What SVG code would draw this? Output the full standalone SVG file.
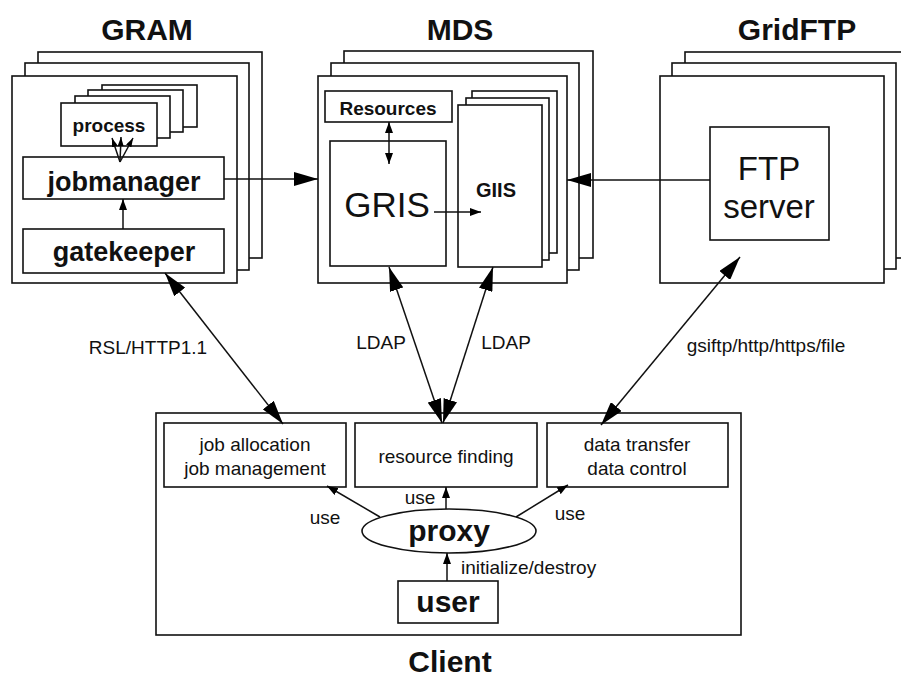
<svg xmlns="http://www.w3.org/2000/svg" width="901" height="679" viewBox="0 0 901 679">
<style>
.box{fill:#fff;stroke:#111;stroke-width:1.6}
.ln{fill:none;stroke:#111;stroke-width:1.5}
text{font-family:"Liberation Sans",Arial,Helvetica,sans-serif;fill:#111;text-anchor:middle}
.b{font-weight:bold}
.lbl{font-size:19px}
</style>
<defs>
<marker id="big" viewBox="0 0 24 14" refX="24" refY="7" markerWidth="24" markerHeight="14" markerUnits="userSpaceOnUse" orient="auto-start-reverse">
<path d="M0,0 L24,7 L0,14 z" fill="#000"/>
</marker>
<marker id="sm" viewBox="0 0 11 8" refX="11" refY="4" markerWidth="11" markerHeight="8" markerUnits="userSpaceOnUse" orient="auto-start-reverse">
<path d="M0,0 L11,4 L0,8 z" fill="#000"/>
</marker>
<marker id="xs" viewBox="0 0 9 6" refX="9" refY="3" markerWidth="9" markerHeight="6" markerUnits="userSpaceOnUse" orient="auto">
<path d="M0,0 L9,3 L0,6 z" fill="#000"/>
</marker>
</defs>
<rect width="901" height="679" fill="#fff"/>

<g id="gram">
<text class="b" x="147" y="40" font-size="30">GRAM</text>
<rect class="box" x="38" y="52" width="224" height="206"/>
<rect class="box" x="25" y="63" width="224" height="207"/>
<rect class="box" x="12" y="76" width="225" height="207"/>
</g>
<g id="process">
<rect class="box" x="102" y="85" width="95" height="42"/>
<rect class="box" x="88" y="90" width="95" height="42"/>
<rect class="box" x="75" y="96" width="95" height="42"/>
<rect class="box" x="61" y="103" width="96" height="43"/>
<text class="b" x="109" y="132" font-size="19">process</text>
</g>
<g id="jobmanager">
<rect class="box" x="23" y="157" width="201" height="42"/>
<text class="b" x="124" y="191" font-size="27">jobmanager</text>
</g>
<g id="gatekeeper">
<rect class="box" x="23" y="229" width="201" height="44"/>
<text class="b" x="124" y="261" font-size="27">gatekeeper</text>
</g>

<g id="mds">
<text class="b" x="460" y="40" font-size="30">MDS</text>
<rect class="box" x="344" y="51" width="249" height="207"/>
<rect class="box" x="331" y="63" width="248" height="207"/>
<rect class="box" x="318" y="76" width="249" height="207"/>
</g>
<g id="resources">
<rect class="box" x="325" y="91" width="127" height="31"/>
<text class="b" x="388" y="115" font-size="19">Resources</text>
</g>
<g id="gris">
<rect class="box" x="330" y="141" width="116" height="125"/>
<text x="387" y="217" font-size="35">GRIS</text>
</g>
<g id="giis">
<rect class="box" x="472" y="91" width="85" height="162"/>
<rect class="box" x="466" y="98" width="83" height="162"/>
<rect class="box" x="458" y="105" width="84" height="162"/>
<text class="b" x="496" y="197" font-size="20">GIIS</text>
</g>

<g id="gridftp">
<text class="b" x="797" y="40" font-size="30">GridFTP</text>
<rect class="box" x="685" y="52" width="230" height="206"/>
<rect class="box" x="672" y="63" width="224" height="206"/>
<rect class="box" x="660" y="76" width="224" height="207"/>
</g>
<g id="ftpserver">
<rect class="box" x="710" y="127" width="119" height="113"/>
<text x="769" y="180" font-size="33">FTP</text>
<text x="769" y="218" font-size="33">server</text>
</g>

<g id="client">
<rect class="box" x="156" y="413" width="585" height="222"/>
<text class="b" x="450" y="672" font-size="30">Client</text>
</g>
<g id="joballoc">
<rect class="box" x="164" y="423" width="182" height="64"/>
<text class="lbl" x="255" y="451">job allocation</text>
<text class="lbl" x="255" y="475">job management</text>
</g>
<g id="resfind">
<rect class="box" x="355" y="423" width="182" height="64"/>
<text class="lbl" x="446" y="463">resource finding</text>
</g>
<g id="datatransfer">
<rect class="box" x="547" y="423" width="181" height="64"/>
<text class="lbl" x="637" y="451">data transfer</text>
<text class="lbl" x="637" y="475">data control</text>
</g>
<g id="proxy">
<ellipse class="box" cx="449" cy="531" rx="87" ry="22"/>
<text class="b" x="449" y="541" font-size="30">proxy</text>
</g>
<g id="user">
<rect class="box" x="398" y="581" width="100" height="42"/>
<text class="b" x="448" y="612" font-size="30">user</text>
</g>

<g id="connectors">
<line class="ln" x1="120" y1="162" x2="112" y2="138" marker-end="url(#xs)"/>
<line class="ln" x1="120" y1="162" x2="121" y2="137" marker-end="url(#xs)"/>
<line class="ln" x1="120" y1="162" x2="133" y2="138" marker-end="url(#xs)"/>
<line class="ln" x1="123" y1="229" x2="123" y2="199" marker-end="url(#sm)"/>
<line class="ln" x1="224" y1="179" x2="318" y2="179" marker-end="url(#big)"/>
<line class="ln" x1="710" y1="180" x2="567" y2="180" marker-end="url(#big)"/>
<line class="ln" x1="389" y1="122" x2="389" y2="164" marker-start="url(#sm)" marker-end="url(#sm)"/>
<line class="ln" x1="434" y1="212" x2="481" y2="212" marker-end="url(#sm)"/>
<line class="ln" x1="165" y1="273" x2="283" y2="424" marker-start="url(#big)" marker-end="url(#big)"/>
<line class="ln" x1="389" y1="267" x2="442" y2="423" marker-start="url(#big)" marker-end="url(#big)"/>
<line class="ln" x1="493" y1="267" x2="443" y2="423" marker-start="url(#big)" marker-end="url(#big)"/>
<line class="ln" x1="740" y1="257" x2="601" y2="425" marker-start="url(#big)" marker-end="url(#big)"/>
<line class="ln" x1="380" y1="517" x2="327" y2="486" marker-end="url(#sm)"/>
<line class="ln" x1="446" y1="509" x2="446" y2="487" marker-end="url(#sm)"/>
<line class="ln" x1="516" y1="517" x2="568" y2="485" marker-end="url(#sm)"/>
<line class="ln" x1="447" y1="581" x2="447" y2="553" marker-end="url(#sm)"/>
<text class="lbl" x="148" y="354">RSL/HTTP1.1</text>
<text class="lbl" x="381" y="349">LDAP</text>
<text class="lbl" x="506" y="349">LDAP</text>
<text class="lbl" x="766" y="352">gsiftp/http/https/file</text>
<text class="lbl" x="325" y="524">use</text>
<text class="lbl" x="420" y="504">use</text>
<text class="lbl" x="570" y="520">use</text>
<text class="lbl" x="461" y="574" style="text-anchor:start">initialize/destroy</text>
</g>
</svg>
